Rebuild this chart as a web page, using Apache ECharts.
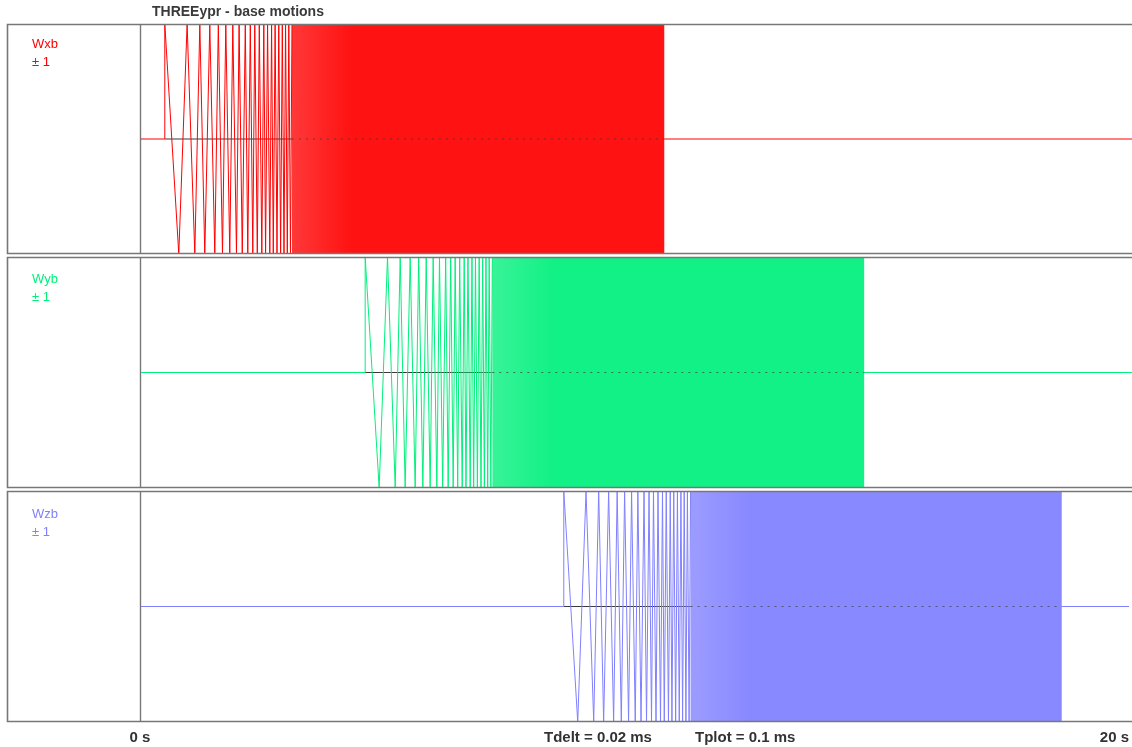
<!DOCTYPE html>
<html><head><meta charset="utf-8">
<script src="https://cdn.jsdelivr.net/npm/echarts@6/dist/echarts.min.js"></script>
<style>html,body{margin:0;padding:0;background:#fff;overflow:hidden}#c{width:1132px;height:747px}</style>
</head><body><div id="c"></div>
<script>
// ---- data ----
const chartTitle = 'THREEypr - base motions';
const channelNames = ['Wxb', 'Wyb', 'Wzb'];
const channelRanges = ['± 1', '± 1', '± 1'];
const xTickValues = [0, 20];
const xTickLabels = ['0 s', '20 s'];
const footerTexts = ['Tdelt = 0.02 ms', 'Tplot = 0.1 ms'];
// sweep start / end time of each channel (s)
const startTimes = [0.50, 4.54, 8.57];
const endTimes = [10.57, 14.60, 18.64];
// times (s, relative to sweep start) of the visible peaks/troughs in the resolvable part of the sweep
const sweepTimes = [0.000, 0.282, 0.450, 0.605, 0.706, 0.806, 0.907, 1.008, 1.079, 1.163,
  1.230, 1.310, 1.371, 1.445, 1.498, 1.562, 1.623, 1.673, 1.724, 1.774,
  1.814, 1.865, 1.905, 1.956, 1.996, 2.032, 2.072, 2.117, 2.153, 2.187,
  2.224, 2.262, 2.298, 2.335, 2.369, 2.403, 2.435, 2.470, 2.500, 2.534, 2.564];
const sweepValues = [1, -1, 1, -1, 1, -1, 1, -1, 1, -1,
  1, -1, 1, -1, 1, -1, 1, -1, 1, -1,
  1, -1, 1, -1, 1, -1, 1, -1, 1, -1,
  1, -1, 1, -1, 1, -1, 1, -1, 1, -1, 1];
// envelope of the unresolved (dense) part of the sweep: upper, lower
const denseEnvelope = [1, -1];
const baseline = 0;

// ---- styles / layout ----
const COLORS = ['#ff0000', '#00f07c', '#8080ff'];
const RGB = ['255,0,0', '0,240,124', '128,128,255'];
const panelTops = [24, 257, 491];
const panelHeights = [230, 231, 231];
const labelY = [[44.5, 62.7], [279.2, 297.3], [514.4, 532.7]];
const PLOT_LEFT = 140;
const FRAME_LEFT = 7;
const FRAME_COLOR = '#777777';
const BOLDFONT = '"Liberation Sans", Arial, sans-serif';

const chart = echarts.init(document.getElementById('c'), null, {renderer: 'canvas'});

const grids = [], xAxes = [], yAxes = [], series = [], graphics = [];
const xMin = xTickValues[0], xMax = xTickValues[xTickValues.length - 1];

for (let i = 0; i < 3; i++) {
  grids.push({left: PLOT_LEFT, right: 0, top: panelTops[i], height: panelHeights[i], containLabel: false, show: false});
  const isLast = i === 2;
  xAxes.push({
    type: 'value', gridIndex: i, min: xMin, max: xMax, interval: xMax - xMin,
    axisLine: {show: false}, axisTick: {show: false}, splitLine: {show: false},
    axisLabel: {
      show: isLast, margin: 8, color: '#333', fontWeight: 'bold', fontSize: 15, fontFamily: BOLDFONT,
      alignMaxLabel: 'right',
      formatter: v => xTickLabels[xTickValues.indexOf(v)]
    }
  });
  yAxes.push({type: 'value', gridIndex: i, min: denseEnvelope[1], max: denseEnvelope[0], show: false});

  const s = startTimes[i], e = endTimes[i];
  const bandStart = s + sweepTimes[sweepTimes.length - 1];
  const col = COLORS[i];
  const common = {type: 'line', xAxisIndex: i, yAxisIndex: i, showSymbol: false, symbol: 'none', silent: true, animation: false};

  // flat trace before and after the sweep
  series.push(Object.assign({}, common, {data: [[xMin, baseline], [s, baseline]], lineStyle: {color: col, width: 1}, z: 3}));
  series.push(Object.assign({}, common, {data: [[e, baseline], [xMax, baseline]], lineStyle: {color: col, width: 1}, z: 3}));

  // dense part: envelope band
  series.push(Object.assign({}, common, {
    data: [[bandStart, denseEnvelope[0]], [e, denseEnvelope[0]]],
    lineStyle: {width: 0, color: col},
    areaStyle: {
      origin: denseEnvelope[1], opacity: 1,
      color: new echarts.graphic.LinearGradient(0, 0, 1, 0, [
        {offset: 0, color: 'rgba(' + RGB[i] + ',0.78)'},
        {offset: 0.16, color: 'rgba(' + RGB[i] + ',0.93)'},
        {offset: 1, color: 'rgba(' + RGB[i] + ',0.93)'}
      ])
    },
    z: 2
  }));

  // zero line through the sweep
  series.push(Object.assign({}, common, {data: [[s, baseline], [bandStart, baseline]], lineStyle: {color: '#3a3a3a', width: 1}, z: 2}));
  series.push(Object.assign({}, common, {data: [[bandStart, baseline], [e, baseline]], lineStyle: {color: '#3a3a3a', width: 1, type: [2, 5], opacity: 0.7}, z: 4}));

  // resolvable part of the sweep
  const zz = [[s, baseline]].concat(sweepTimes.map((t, k) => [s + t, sweepValues[k]]));
  series.push(Object.assign({}, common, {data: zz, lineStyle: {color: col, width: 1}, z: 5}));

  // frame
  const top = panelTops[i], h = panelHeights[i];
  graphics.push({type: 'rect', silent: true, z: 10, shape: {x: FRAME_LEFT + 0.5, y: top + 0.5, width: 1300, height: h - 1},
    style: {fill: null, stroke: FRAME_COLOR, lineWidth: 1.6}});
  graphics.push({type: 'line', silent: true, z: 10, shape: {x1: PLOT_LEFT + 0.5, y1: top, x2: PLOT_LEFT + 0.5, y2: top + h},
    style: {stroke: FRAME_COLOR, lineWidth: 1.4}});
  // channel labels
  graphics.push({type: 'text', silent: true, z: 11, x: 32, y: labelY[i][0],
    style: {text: channelNames[i], fill: col, font: '13px "Liberation Sans", Arial, sans-serif', verticalAlign: 'middle', textVerticalAlign: 'middle'}});
  graphics.push({type: 'text', silent: true, z: 11, x: 32, y: labelY[i][1],
    style: {text: channelRanges[i], fill: col, font: '13px "Liberation Sans", Arial, sans-serif', verticalAlign: 'middle', textVerticalAlign: 'middle'}});
}

graphics.push({type: 'text', silent: true, z: 11, x: 544, y: 738,
  style: {text: footerTexts[0], fill: '#333', font: 'bold 15px ' + BOLDFONT, verticalAlign: 'middle', textVerticalAlign: 'middle'}});
graphics.push({type: 'text', silent: true, z: 11, x: 695, y: 738,
  style: {text: footerTexts[1], fill: '#333', font: 'bold 15px ' + BOLDFONT, verticalAlign: 'middle', textVerticalAlign: 'middle'}});

chart.setOption({
  animation: false,
  backgroundColor: '#ffffff',
  title: {text: chartTitle, left: 152, top: 5, padding: 0,
    textStyle: {color: '#3a3a3a', fontSize: 14, fontWeight: 'bold', fontFamily: BOLDFONT}},
  grid: grids, xAxis: xAxes, yAxis: yAxes, series: series, graphic: graphics
});
</script></body></html>
